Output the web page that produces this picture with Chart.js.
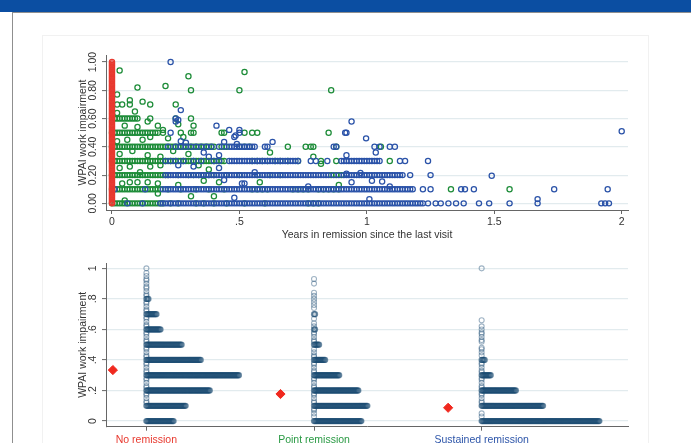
<!DOCTYPE html>
<html>
<head>
<meta charset="utf-8">
<script src="https://cdn.jsdelivr.net/npm/chart.js@4.4.1/dist/chart.umd.min.js"></script>
<style>
  html, body { margin: 0; padding: 0; background: #fff; overflow: hidden; }
  #page { position: relative; width: 691px; height: 443px; overflow: hidden; }
  #band { position: absolute; left: 0; top: 0; width: 691px; height: 12px; background: #0b4ea2; }
  #frame { position: absolute; left: 12px; top: 12px; width: 690px; height: 440px;
           border-left: 1px solid #8f8f8f; border-top: 1px solid #8f8f8f; }
  #inner { position: absolute; left: 42px; top: 35px; width: 605px; height: 430px; border: 1px solid #f1f1f1; }
  #scatterCanvas { position: absolute; left: 0; top: 0; }
  #stripCanvas { position: absolute; left: 0; top: 240px; }
</style>
</head>
<body>
<div id="page">
  <div id="band"></div>
  <div id="frame"></div>
  <div id="inner"></div>
  <canvas id="scatterCanvas" width="691" height="250" style="width:691px;height:250px"></canvas>
  <canvas id="stripCanvas" width="691" height="203" style="width:691px;height:203px"></canvas>
</div>
<script>
// ---------- Upper panel: WPAI vs years in remission since the last visit ----------
// No remission: every observation sits at 0 years (WPAI in percent)
const noRemissionWpaiPct = [0,1,2,3,4,5,6,7,8,9,10,11,12,13,14,15,16,17,18,19,20,21,22,23,24,25,26,27,28,29,30,
  31,32,33,34,35,36,37,38,39,40,41,42,43,44,45,46,47,48,49,50,51,52,53,54,55,56,57,58,59,60,61,62,63,64,65,
  66,67,68,69,70,71,72,73,74,75,76,77,78,79,80,81,82,83,84,85,86,87,88,89,90,91,92,93,94,95,96,97,98,99,100];

// Point remission: years in remission (x100) at each common WPAI level
const pointW00 = [0,1,2,3,4,5,6,7,8,9,10,11,12,13,14,15,16,17,18,19,20,23,26,33,36,40,45,52,60,77,79,81];
const pointW10 = [0,1,2,3,4,5,6,7,8,9,10,11,12,13,14,15,16,17,18,19,22,27,33,38,44,55,57,59,61,71,73,75,77,81,83,85,87,89,133,156];
const pointW20 = [0,1,2,3,4,5,6,7,8,9,10,11,12,13,14,15,16,17,18,19,20,21,22,26,30,32,34,36,38,40,45,50,57,62,66,86,88,90];
const pointW30 = [0,1,2,3,4,5,6,7,8,9,10,11,12,13,14,15,16,17,18,19,20,21,22,23,24,25,26,27,28,29,30,31,32,33,34,35,
  36,37,38,39,40,41,42,43,44,55,57,59,61,64,66,69,73,82,88,109];
const pointW40 = [0,1,2,3,4,5,6,7,8,9,10,11,12,13,14,15,16,17,18,19,20,21,22,23,24,25,26,27,28,29,30,31,32,33,34,35,
  36,37,38,39,40,43,45,50,52,54,69,76,78,79,88,105.5];
const pointW50 = [0,1,2,3,4,5,6,7,8,9,10,11,12,13,14,15,16,17,18,20,27,31,32,43,44,52,55,57,85];
const pointW60 = [1,2,3,4,5,6,7,8,9,10,15,25,31];
const pointW70 = [2,4,7,15,25];
// Point remission: remaining observations as [years, WPAI]
const pointOther = [[0.03,0.94],[0.30,0.90],[0.10,0.82],[0.21,0.83],[0.31,0.80],[0.02,0.77],[0.07,0.73],[0.12,0.72],
  [0.52,0.93],[0.50,0.80],[0.86,0.80],[0.02,0.64],[0.09,0.65],[0.14,0.58],[0.05,0.55],[0.10,0.54],[0.18,0.55],
  [0.32,0.55],[0.26,0.56],[0.02,0.44],[0.06,0.45],[0.12,0.45],[0.20,0.52],[0.15,0.47],[0.22,0.46],[0.28,0.47],
  [0.03,0.35],[0.08,0.37],[0.14,0.34],[0.19,0.33],[0.24,0.37],[0.30,0.35],[0.62,0.36],[0.79,0.33],[0.82,0.28],
  [0.03,0.25],[0.07,0.26],[0.11,0.22],[0.15,0.26],[0.19,0.27],[0.34,0.27],[0.38,0.24],[0.04,0.14],[0.07,0.15],
  [0.10,0.15],[0.14,0.15],[0.18,0.14],[0.26,0.13],[0.36,0.16],[0.42,0.15],[0.58,0.15],[0.89,0.13],[0.05,0.02],
  [0.18,0.07],[0.31,0.05],[0.40,0.05]];

// Sustained remission: years in remission (x100) at each common WPAI level
const sustW00 = [6,12,19,20,21,22,23,24,25,26,27,28,29,30,31,32,33,34,35,36,37,38,39,40,41,42,43,44,45,46,47,48,49,50,
  51,52,53,54,55,56,57,58,59,60,61,62,63,64,65,66,67,68,69,70,71,72,73,74,75,76,77,78,79,80,81,82,83,84,85,86,87,
  88,89,90,91,92,93,94,95,96,97,98,99,100,101,102,103,104,105,106,107,108,109,110,111,112,113,114,115,116,117,118,
  119,120,121,122,124,127,129,132,135,138,144,148,156,167,192,193.5,195];
const sustW10 = [1,13,20,21,22,23,24,25,26,27,28,29,30,31,32,33,34,35,36,37,38,39,40,41,42,43,44,45,46,47,48,49,50,
  51,52,53,54,55,56,57,58,59,60,61,62,63,64,65,66,67,68,69,70,71,72,73,74,75,76,77,78,79,80,81,82,83,84,85,86,87,
  88,89,90,91,92,93,94,95,96,97,98,99,100,101,102,103,104,105,106,107,108,109,110,111,112,113,114,115,116,117,118,
  122,125,137,138.5,142,173.5,194.5];
const sustW20 = [21,22,23,24,25,26,27,28,29,30,31,32,33,34,35,36,37,38,39,40,41,42,43,44,45,46,47,48,49,50,
  51,52,53,54,55,56,57,58,59,60,61,62,63,64,65,66,67,68,69,70,71,72,73,74,75,76,77,78,79,80,81,82,83,84,85,
  87,89,91,92,93,94,95,96,97,98,99,100,101,102,103,104,105,106,107,108,109,110,111,112,113,114,117,125];
const sustW30 = [21,23,25,28,32,35,40,42,46,47,48,49,50,51,52,53,54,55,56,57,58,59,60,61,62,63,64,65,66,67,68,69,70,
  71,72,73,78,80,84.5,90,91,92,93,94,95,96,97,98,99,100,101,102,103,104,105,113,115,124];
const sustW40 = [22,25,27,29,31,33,35,37,39,42,44,46,47,48,49,50,51,52,53,54,55,56,60,61,87,88,103,105,109,111];
const sustW50 = [23,50,92];
// Sustained remission: remaining observations as [years, WPAI]
const sustOther = [[0.23,1.00],[0.27,0.66],[0.25,0.60],[0.26,0.59],[0.25,0.58],[0.94,0.58],[0.41,0.55],[0.46,0.52],
  [0.50,0.52],[0.915,0.50],[0.48,0.47],[0.485,0.48],[0.997,0.46],[0.27,0.44],[0.29,0.43],[0.44,0.435],[0.63,0.435],
  [0.49,0.42],[0.36,0.36],[1.035,0.36],[0.92,0.34],[0.42,0.34],[0.38,0.33],[0.26,0.27],[0.32,0.26],[0.42,0.25],
  [0.56,0.22],[0.92,0.21],[0.975,0.215],[1.49,0.195],[0.44,0.165],[1.02,0.16],[1.06,0.155],[0.94,0.15],
  [0.51,0.14],[0.52,0.14],[0.77,0.12],[1.09,0.12],[0.48,0.04],[1.01,0.03],[1.67,0.03],[2.00,0.51]];

const topYTicks = [0, 0.2, 0.4, 0.6, 0.8, 1];
const topYTickLabels = ['0.00', '0.20', '0.40', '0.60', '0.80', '1.00'];
const topXTicks = [0, 0.5, 1, 1.5, 2];
const topXTickLabels = ['0', '.5', '1', '1.5', '2'];

// ---------- Lower panel: WPAI by remission group ----------
const groups = ['No remission', 'Point remission', 'Sustained remission'];
const groupColors = ['#e8392f', '#2a9a44', '#2d55a9'];
const groupMeans = [0.334, 0.177, 0.087];
// stacked dots at the common WPAI levels
const noRemLevels = [0, 0.1, 0.2, 0.3, 0.4, 0.5, 0.6, 0.7, 0.8];
const noRemCounts = [28, 40, 64, 93, 55, 36, 15, 11, 3];
const pointLevels = [0, 0.1, 0.2, 0.3, 0.4, 0.5, 0.6, 0.7];
const pointCounts = [48, 54, 45, 26, 12, 6, 2, 2];
const sustLevels = [0, 0.1, 0.2, 0.3, 0.4];
const sustCounts = [118, 62, 35, 10, 4];
// single observations at other WPAI values
const noRemSingles = [0.12,0.13,0.15,0.17,0.18,0.22,0.23,0.25,0.27,0.28,0.32,0.33,0.35,0.37,0.38,0.42,0.43,0.45,0.47,
  0.48,0.52,0.53,0.55,0.57,0.58,0.62,0.63,0.65,0.67,0.68,0.72,0.73,0.75,0.77,0.78,0.82,0.83,0.85,0.87,0.88,0.90,
  0.92,0.93,0.95,0.97,1.00];
const pointSingles = [0.93,0.90,0.84,0.82,0.80,0.78,0.76,0.74,0.67,0.64,0.62,0.58,0.57,0.55,0.53,0.52,0.47,0.45,0.43,
  0.42,0.38,0.37,0.35,0.33,0.32,0.28,0.27,0.25,0.23,0.22,0.18,0.17,0.15,0.13,0.12,0.08,0.07,0.05,0.03];
const sustSingles = [1.00,0.66,0.62,0.60,0.58,0.57,0.55,0.53,0.52,0.48,0.47,0.45,0.43,0.38,0.37,0.35,0.33,0.32,0.28,
  0.27,0.25,0.23,0.22,0.18,0.17,0.15,0.13,0.12,0.05,0.03];

const bottomYTicks = [0, 0.2, 0.4, 0.6, 0.8, 1];
const bottomYTickLabels = ['0', '.2', '.4', '.6', '.8', '1'];
const bottomXTicks = [1, 2, 3];

// ---------- helpers ----------
const FONT = '"Liberation Sans", Arial, Helvetica, sans-serif';
const TEXT = '#333333';
const AXIS = '#666666';
const GRID = '#e2ebee';

function rowsToPoints(rows, levels) {
  const pts = [];
  rows.forEach((row, i) => row.forEach(x100 => pts.push({ x: x100 / 100, y: levels[i] })));
  return pts;
}
function pairsToPoints(pairs) { return pairs.map(p => ({ x: p[0], y: p[1] })); }

// rotated y tick labels (drawn along the axis, reading upward)
const rotatedYTicks = {
  id: 'rotatedYTicks',
  afterDraw(chart, args, opts) {
    const s = chart.scales.y, ctx = chart.ctx;
    ctx.save();
    ctx.font = '10.5px ' + FONT;
    ctx.fillStyle = TEXT;
    ctx.textAlign = 'center';
    ctx.textBaseline = 'middle';
    s.ticks.forEach((t, i) => {
      ctx.save();
      ctx.translate(opts.x, s.getPixelForValue(t.value));
      ctx.rotate(-Math.PI / 2);
      ctx.fillText(opts.labels[i], 0, 0);
      ctx.restore();
    });
    ctx.restore();
  }
};
Chart.register(rotatedYTicks);

function fixedTicks(values) { return scale => { scale.ticks = values.map(v => ({ value: v })); }; }

// ---------- upper chart ----------
const levels8 = [0, 0.1, 0.2, 0.3, 0.4, 0.5, 0.6, 0.7];
const pointPts = rowsToPoints([pointW00, pointW10, pointW20, pointW30, pointW40, pointW50, pointW60, pointW70], levels8)
  .concat(pairsToPoints(pointOther));
const sustPts = rowsToPoints([sustW00, sustW10, sustW20, sustW30, sustW40, sustW50], levels8)
  .concat(pairsToPoints(sustOther));
const noRemPts = noRemissionWpaiPct.map(v => ({ x: 0, y: v / 100 }));

const ring = (color, order, data) => ({
  data, order, borderColor: color, backgroundColor: 'rgba(0,0,0,0)',
  pointRadius: 2.6, pointBorderWidth: 1.25, pointHoverRadius: 2.6, showLine: false
});

new Chart(document.getElementById('scatterCanvas'), {
  type: 'scatter',
  data: { datasets: [
    ring('#e8392f', 0, noRemPts),
    ring('#2a52a8', 1, sustPts),
    ring('#1d8c38', 2, pointPts)
  ] },
  options: {
    responsive: false, animation: false, events: [],
    layout: { padding: { left: 0, right: 63, top: 55, bottom: 0 } },
    plugins: { legend: { display: false }, tooltip: { enabled: false },
               rotatedYTicks: { x: 93.3, labels: topYTickLabels } },
    scales: {
      x: {
        type: 'linear', min: -0.0235, max: 2.0247,
        afterBuildTicks: fixedTicks(topXTicks),
        afterFit: s => { s.height = 40; },
        ticks: { autoSkip: false, maxRotation: 0, padding: 2, color: TEXT, font: { family: FONT, size: 10.5 },
                 callback: (v, i) => topXTickLabels[i] },
        grid: { drawOnChartArea: false, drawTicks: true, tickLength: 4, tickColor: AXIS, color: 'rgba(0,0,0,0)' },
        border: { display: true, color: AXIS, width: 1 },
        title: { display: true, text: 'Years in remission since the last visit', color: TEXT,
                 font: { family: FONT, size: 10.5 }, padding: { top: 0, bottom: 8.5 } }
      },
      y: {
        type: 'linear', min: -0.047, max: 1.05,
        afterBuildTicks: fixedTicks(topYTicks),
        afterFit: s => { s.width = 106; },
        ticks: { color: 'rgba(0,0,0,0)', font: { family: FONT, size: 10.5 } },
        grid: { color: GRID, lineWidth: 1.2, drawTicks: true, tickLength: 4, tickColor: AXIS, tickWidth: 1 },
        border: { display: true, color: AXIS, width: 1 },
        title: { display: true, text: 'WPAI work impairment', color: TEXT,
                 font: { family: FONT, size: 10.5 }, padding: { top: 76.4, bottom: 0 } }
      }
    }
  }
});

// ---------- lower chart ----------
const DOT_STEP = 0.006;      // horizontal spacing of stacked dots (category units)
const MEAN_OFFSET = 0.2;     // group mean marker sits left of its strip
function stackPoints(cat, lv, counts) {
  const pts = [];
  lv.forEach((y, i) => { for (let k = 0; k < counts[i]; k++) pts.push({ x: cat + k * DOT_STEP, y }); });
  return pts;
}
function singlePoints(cat, singles) { return singles.map(y => ({ x: cat, y })); }

const stackSet = data => ({ data, order: 1, borderColor: 'rgba(27,75,114,0.6)', backgroundColor: 'rgba(27,75,114,0.12)',
  pointRadius: 2.5, pointBorderWidth: 1.3, pointHoverRadius: 2.5, showLine: false });
const singleSet = data => ({ data, order: 2, borderColor: 'rgba(27,75,114,0.42)', backgroundColor: 'rgba(0,0,0,0)',
  pointRadius: 2.5, pointBorderWidth: 1.1, pointHoverRadius: 2.5, showLine: false });

new Chart(document.getElementById('stripCanvas'), {
  type: 'scatter',
  data: { datasets: [
    singleSet(singlePoints(1, noRemSingles)),
    singleSet(singlePoints(2, pointSingles)),
    singleSet(singlePoints(3, sustSingles)),
    stackSet(stackPoints(1, noRemLevels, noRemCounts)),
    stackSet(stackPoints(2, pointLevels, pointCounts)),
    stackSet(stackPoints(3, sustLevels, sustCounts)),
    { data: groupMeans.map((m, i) => ({ x: bottomXTicks[i] - MEAN_OFFSET, y: m })), order: 0,
      pointStyle: 'rectRot', pointRadius: 4.6, pointHoverRadius: 4.6, backgroundColor: '#f0281e',
      borderColor: '#f0281e', pointBorderWidth: 1, showLine: false }
  ] },
  options: {
    responsive: false, animation: false, events: [],
    layout: { padding: { left: 0, right: 63, top: 23, bottom: 0 } },
    plugins: { legend: { display: false }, tooltip: { enabled: false },
               rotatedYTicks: { x: 92.7, labels: bottomYTickLabels } },
    scales: {
      x: {
        type: 'linear', min: 0.759, max: 3.873,
        afterBuildTicks: fixedTicks(bottomXTicks),
        afterFit: s => { s.height = 16.3; },
        ticks: { autoSkip: false, maxRotation: 0, padding: 3, font: { family: FONT, size: 10.5 },
                 color: c => groupColors[c.index], callback: (v, i) => groups[i] },
        grid: { drawOnChartArea: false, drawTicks: true, tickLength: 4, tickColor: AXIS, color: 'rgba(0,0,0,0)' },
        border: { display: true, color: AXIS, width: 1 }
      },
      y: {
        type: 'linear', min: -0.037, max: 1.035,
        afterBuildTicks: fixedTicks(bottomYTicks),
        afterFit: s => { s.width = 106; },
        ticks: { color: 'rgba(0,0,0,0)', font: { family: FONT, size: 10.5 } },
        grid: { color: GRID, lineWidth: 1.2, drawTicks: true, tickLength: 4, tickColor: AXIS, tickWidth: 1 },
        border: { display: true, color: AXIS, width: 1 },
        title: { display: true, text: 'WPAI work impairment', color: TEXT,
                 font: { family: FONT, size: 10.5 }, padding: { top: 76.4, bottom: 0 } }
      }
    }
  }
});
</script>
</body>
</html>
